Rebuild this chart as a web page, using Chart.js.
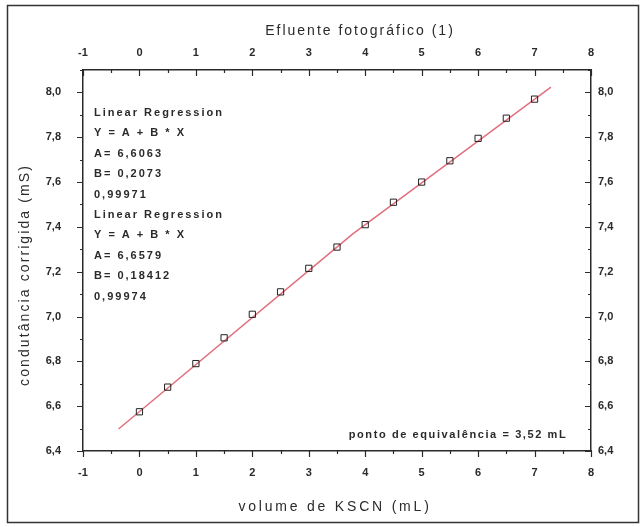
<!DOCTYPE html>
<html>
<head>
<meta charset="utf-8">
<script src="https://cdn.jsdelivr.net/npm/chart.js@4/dist/chart.umd.min.js"></script>
<style>
    body { margin: 0; background: #fff; }
    #wrap { width: 644px; height: 527px; }
</style>
</head>
<body>
<div id="wrap"><canvas id="chart" width="644" height="527"></canvas></div>
<script>
// volume de KSCN (mL) and corrected conductance (mS)
const volumeKSCN = [0, 0.5, 1, 1.5, 2, 2.5, 3, 3.5, 4, 4.5, 5, 5.5, 6, 6.5, 7];
const condutancia = [6.575, 6.685, 6.79, 6.905, 7.01, 7.11, 7.215, 7.31, 7.41, 7.51, 7.60, 7.695, 7.795, 7.885, 7.97];

// the two fitted segments (start, meeting point, end)
const fitX = [-0.37, 3.78, 7.29];
const fitY = [6.498, 7.369, 8.024];

const regressionText = [
    'Linear Regression', 'Y = A + B * X', 'A= 6,6063', 'B= 0,2073', '0,99971',
    'Linear Regression', 'Y = A + B * X', 'A= 6,6579', 'B= 0,18412', '0,99974'
];
const equivalenceText = 'ponto de equivalência = 3,52 mL';
const topTitle = 'Efluente fotográfico (1)';
const bottomTitle = 'volume de KSCN (mL)';
const leftTitle = 'condutância corrigida (mS)';

const FONT = "'Liberation Sans', Arial, sans-serif";
const INK = '#2a2a2a';

const commaFmt = v => v.toFixed(1).replace('.', ',');

// fixed plot box
const fit = size => function (scale) {
    if (scale.isHorizontal()) scale.height = size; else scale.width = size;
};

// frame, minor/major ticks, titles and the text boxes
const decorations = {
    id: 'decorations',
    beforeDraw(chart) {
        const ctx = chart.ctx;
        ctx.save();
        ctx.fillStyle = '#fff';
        ctx.fillRect(0, 0, chart.width, chart.height);
        ctx.strokeStyle = '#333';
        ctx.lineWidth = 1.5;
        ctx.strokeRect(7.5, 5.5, 631, 517);
        ctx.restore();
    },
    afterDraw(chart) {
        const ctx = chart.ctx;
        const s = chart.scales;
        ctx.save();
        ctx.strokeStyle = INK;
        ctx.lineWidth = 1.2;
        ctx.beginPath();
        // x ticks every 0.5, major at integers
        for (let v = -1; v <= 8.001; v += 0.5) {
            const major = Math.abs(v - Math.round(v)) < 1e-6;
            const len = major ? 6 : 3;
            const px = Math.round(s.x.getPixelForValue(v)) + 0.5;
            ctx.moveTo(px, s.x.top); ctx.lineTo(px, s.x.top + len);
            ctx.moveTo(px, s.x2.bottom); ctx.lineTo(px, s.x2.bottom + len);
        }
        // y ticks every 0.1, major every 0.2
        for (let i = 0; i <= 17; i++) {
            const v = 6.4 + i * 0.1;
            const major = i % 2 === 0 && i < 17;
            const len = major ? 6 : 3;
            const py = Math.round(s.y.getPixelForValue(v)) + 0.5;
            ctx.moveTo(s.y.right, py); ctx.lineTo(s.y.right - len, py);
            ctx.moveTo(s.y2.left, py); ctx.lineTo(s.y2.left - len, py);
        }
        ctx.stroke();

        ctx.fillStyle = INK;
        ctx.textBaseline = 'middle';

        // axis titles, widely spaced like the original
        ctx.font = '14px ' + FONT;
        ctx.textAlign = 'center';
        ctx.letterSpacing = '2px';
        ctx.fillText(topTitle, 360, 31);
        ctx.letterSpacing = '2.8px';
        ctx.fillText(bottomTitle, 335, 507);
        ctx.save();
        ctx.translate(25, 275);
        ctx.rotate(-Math.PI / 2);
        ctx.letterSpacing = '2.1px';
        ctx.fillText(leftTitle, 0, 0);
        ctx.restore();

        ctx.font = 'bold 11px ' + FONT;
        ctx.textAlign = 'left';
        ctx.letterSpacing = '2px';
        regressionText.forEach((t, i) => ctx.fillText(t, 94, 113 + i * 20.4));
        ctx.textAlign = 'center';
        ctx.letterSpacing = '1.6px';
        ctx.fillText(equivalenceText, 458, 435);
        ctx.restore();
    }
};

const tickFont = { family: FONT, size: 11, weight: 'bold' };

new Chart(document.getElementById('chart'), {
    type: 'scatter',
    data: {
        datasets: [
            {
                label: 'condutância',
                data: volumeKSCN.map((x, i) => ({ x: x, y: condutancia[i] })),
                pointStyle: 'rect',
                pointRadius: 4.4,
                pointBorderColor: '#222',
                pointBorderWidth: 1,
                pointBackgroundColor: 'rgba(255,255,255,0)',
                showLine: false
            },
            {
                label: 'ajuste',
                data: fitX.map((x, i) => ({ x: x, y: fitY[i] })),
                showLine: true,
                borderColor: '#e2707c',
                borderWidth: 1.5,
                pointRadius: 0
            }
        ]
    },
    options: {
        responsive: false,
        animation: false,
        devicePixelRatio: 1,
        layout: { padding: 0 },
        plugins: { legend: { display: false }, tooltip: { enabled: false } },
        scales: {
            x: {
                type: 'linear', position: 'bottom', min: -1, max: 8,
                afterFit: fit(76),
                border: { display: true, color: INK, width: 1.5 },
                grid: { drawOnChartArea: false, drawTicks: false },
                ticks: { stepSize: 1, padding: 15, color: INK, font: tickFont }
            },
            x2: {
                type: 'linear', position: 'top', min: -1, max: 8,
                afterFit: fit(70),
                border: { display: true, color: INK, width: 1.5 },
                grid: { drawOnChartArea: false, drawTicks: false },
                ticks: { stepSize: 1, padding: 10, color: INK, font: tickFont }
            },
            y: {
                type: 'linear', position: 'left', min: 6.4, max: 8.1,
                afterFit: fit(83),
                border: { display: true, color: INK, width: 1.5 },
                grid: { drawOnChartArea: false, drawTicks: false },
                ticks: { stepSize: 0.2, includeBounds: false, padding: 22, color: INK, font: tickFont, callback: commaFmt }
            },
            y2: {
                type: 'linear', position: 'right', min: 6.4, max: 8.1,
                afterFit: fit(53),
                border: { display: true, color: INK, width: 1.5 },
                grid: { drawOnChartArea: false, drawTicks: false },
                ticks: { stepSize: 0.2, includeBounds: false, padding: 7, color: INK, font: tickFont, callback: commaFmt }
            }
        }
    },
    plugins: [decorations]
});
</script>
</body>
</html>
